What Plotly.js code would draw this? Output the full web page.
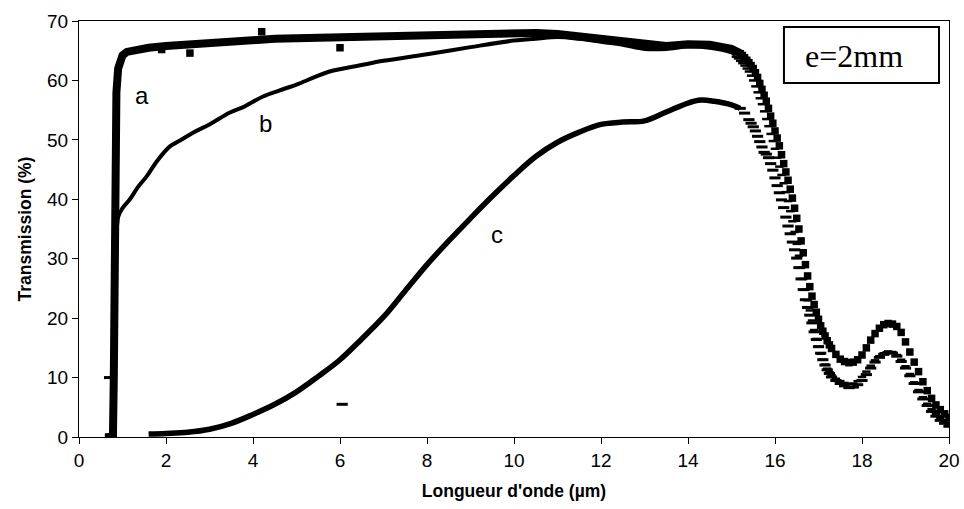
<!DOCTYPE html>
<html>
<head>
<meta charset="utf-8">
<script src="https://cdn.plot.ly/plotly-3.0.1.min.js"></script>
<style>html,body{margin:0;padding:0;background:#fff;}#chart{width:964px;height:509px;}</style>
</head>
<body>
<div id="chart"></div>
<script>
// ---- Curve a (thick line, square markers in the cut-off region) ----
const aWaveTop  = [0.65, 0.78, 0.80, 0.82, 0.84, 0.86, 0.90, 0.95, 1.00, 1.10, 1.30, 1.60, 2.00, 2.50, 3.00, 3.50, 4.00, 4.50, 5.00, 6.00, 7.00, 8.00, 9.00, 10.00, 10.50, 11.00, 11.50, 12.00, 12.50, 13.00, 13.50, 14.00, 14.50, 15.00, 15.20];
const aTransTop = [0.0, 0.0, 10.0, 30.0, 48.0, 58.0, 62.0, 63.5, 64.2, 64.8, 65.2, 65.5, 65.8, 66.1, 66.4, 66.6, 66.8, 67.0, 67.1, 67.3, 67.4, 67.6, 67.8, 68.0, 68.0, 67.8, 67.4, 67.0, 66.5, 65.9, 65.8, 66.1, 66.0, 65.3, 64.6];
const aWaveDrop  = [15.20, 15.25, 15.30, 15.35, 15.40, 15.45, 15.50, 15.55, 15.60, 15.65, 15.70, 15.75, 15.80, 15.85, 15.90, 15.95, 16.00, 16.05, 16.10, 16.15, 16.20, 16.25, 16.30, 16.35, 16.40, 16.45, 16.50, 16.55, 16.60, 16.65, 16.70, 16.75, 16.80, 16.85, 16.90, 16.95, 17.00, 17.05, 17.10, 17.15, 17.20, 17.25, 17.30, 17.40, 17.50, 17.60, 17.70, 17.80, 17.90, 18.00, 18.10, 18.20, 18.30, 18.40, 18.50, 18.60, 18.70, 18.80, 18.90, 19.00, 19.10, 19.20, 19.30, 19.40, 19.50, 19.60, 19.70, 19.80, 19.90, 20.00];
const aTransDrop = [64.5, 64.2, 63.8, 63.4, 63.0, 62.5, 62.0, 61.3, 60.5, 59.5, 58.5, 57.5, 56.5, 55.3, 54.0, 52.8, 51.5, 50.3, 49.0, 47.5, 46.0, 44.6, 43.2, 41.7, 40.2, 38.5, 36.8, 35.0, 33.0, 31.0, 29.0, 27.1, 25.3, 23.7, 22.3, 21.0, 19.8, 18.7, 17.8, 17.0, 16.2, 15.5, 14.9, 13.9, 13.1, 12.7, 12.5, 12.6, 13.0, 13.8, 15.0, 16.3, 17.4, 18.3, 18.9, 19.1, 19.0, 18.6, 17.6, 16.0, 14.3, 12.6, 11.0, 9.3, 7.8, 6.5, 5.4, 4.6, 3.9, 3.3];
const aStrayWave  = [0.68, 0.75, 1.90, 2.55, 4.20, 6.00];
const aStrayTrans = [0.0, 0.0, 65.2, 64.6, 68.2, 65.5];

// ---- Curve b (thinner line, dash markers in the cut-off region) ----
const bWaveTop  = [0.80, 0.83, 0.86, 0.90, 1.00, 1.17, 1.35, 1.56, 1.80, 2.09, 2.30, 2.62, 3.00, 3.47, 3.80, 4.23, 4.60, 5.00, 5.40, 5.76, 6.50, 7.00, 8.00, 9.00, 10.00, 10.50, 11.00, 11.50, 12.00, 12.50, 13.00, 13.50, 14.00, 14.50, 15.00, 15.10];
const bTransTop = [0.0, 20.0, 32.0, 37.0, 38.5, 40.0, 42.0, 43.9, 46.5, 48.9, 49.8, 51.2, 52.6, 54.6, 55.6, 57.3, 58.3, 59.3, 60.5, 61.5, 62.6, 63.3, 64.4, 65.6, 66.7, 67.0, 67.3, 67.0, 66.5, 66.0, 65.3, 65.3, 65.7, 65.5, 64.7, 64.3];
const bWaveDrop  = [15.10, 15.15, 15.20, 15.25, 15.30, 15.35, 15.40, 15.45, 15.50, 15.55, 15.60, 15.65, 15.70, 15.75, 15.80, 15.85, 15.90, 15.95, 16.00, 16.05, 16.10, 16.15, 16.20, 16.25, 16.30, 16.35, 16.40, 16.45, 16.50, 16.55, 16.60, 16.65, 16.70, 16.75, 16.80, 16.85, 16.90, 16.95, 17.00, 17.05, 17.10, 17.15, 17.20, 17.25, 17.30, 17.40, 17.50, 17.60, 17.70, 17.80, 17.90, 18.00, 18.10, 18.20, 18.30, 18.40, 18.50, 18.60, 18.70, 18.80, 18.90, 19.00, 19.10, 19.20, 19.30, 19.40, 19.50, 19.60, 19.70, 19.80, 19.90, 20.00];
const bTransDrop = [64.0, 63.7, 63.3, 62.9, 62.5, 62.0, 61.5, 60.8, 60.0, 59.0, 58.0, 57.0, 56.0, 54.8, 53.5, 52.3, 51.0, 49.8, 48.5, 47.0, 45.5, 44.1, 42.7, 41.2, 39.7, 38.0, 36.3, 34.5, 32.5, 30.5, 28.5, 26.6, 24.8, 23.0, 21.3, 19.6, 18.0, 16.5, 15.2, 14.0, 13.0, 12.2, 11.5, 10.9, 10.4, 9.8, 9.4, 9.1, 8.9, 9.0, 9.4, 10.1, 11.0, 12.0, 12.9, 13.6, 14.1, 14.4, 14.3, 13.8, 13.0, 11.9, 10.6, 9.2, 7.9, 6.7, 5.6, 4.7, 3.9, 3.2, 2.7, 2.2];
const bStrayWave  = [0.67];
const bStrayTrans = [10.0];

// ---- Curve c (line, dash markers in the cut-off region) ----
const cWaveTop  = [1.60, 2.00, 2.50, 3.00, 3.50, 4.00, 4.50, 5.00, 5.50, 6.00, 6.50, 7.00, 7.50, 8.00, 8.50, 9.00, 9.50, 10.00, 10.50, 11.00, 11.50, 12.00, 12.50, 13.00, 13.50, 14.00, 14.30, 14.60, 15.00, 15.20];
const cTransTop = [0.5, 0.6, 0.8, 1.3, 2.3, 3.8, 5.5, 7.6, 10.2, 13.0, 16.5, 20.2, 24.6, 29.0, 33.0, 36.8, 40.5, 44.0, 47.2, 49.6, 51.3, 52.6, 53.0, 53.2, 54.7, 56.2, 56.7, 56.5, 55.9, 55.3];
const cWaveDrop  = [15.20, 15.30, 15.40, 15.45, 15.50, 15.55, 15.60, 15.65, 15.70, 15.75, 15.80, 15.85, 15.90, 15.95, 16.00, 16.05, 16.10, 16.15, 16.20, 16.25, 16.30, 16.35, 16.40, 16.45, 16.50, 16.55, 16.60, 16.65, 16.70, 16.75, 16.80, 16.85, 16.90, 16.95, 17.00, 17.05, 17.10, 17.15, 17.20, 17.25, 17.30, 17.40, 17.50, 17.60, 17.70, 17.80, 17.90, 18.00, 18.10, 18.20, 18.30, 18.40, 18.50, 18.60, 18.70, 18.80, 18.90, 19.00, 19.10, 19.20, 19.30, 19.40, 19.50, 19.60, 19.70, 19.80, 19.90, 20.00];
const cTransDrop = [55.3, 54.5, 53.4, 52.8, 52.2, 51.5, 50.6, 49.7, 48.8, 47.9, 47.6, 47.0, 46.0, 44.9, 43.6, 42.3, 41.1, 39.9, 38.6, 37.0, 35.5, 34.2, 32.8, 31.5, 30.1, 28.5, 26.6, 24.8, 23.1, 21.8, 20.5, 19.2, 17.7, 16.4, 15.2, 14.1, 13.0, 12.1, 11.3, 10.7, 10.1, 9.5, 9.0, 8.6, 8.3, 8.4, 8.8, 9.5, 10.5, 11.6, 12.6, 13.4, 13.9, 14.2, 14.1, 13.6, 12.7, 11.6, 10.3, 9.0, 7.6, 6.4, 5.3, 4.3, 3.5, 2.8, 2.3, 1.8];
const cStrayWave  = [6.05];
const cStrayTrans = [5.5];

// ---- Labels ----
const curveLabels = ['a', 'b', 'c'];
const labelWave   = [1.45, 4.28, 9.61];
const labelTrans  = [57.4, 52.7, 34.0];
const boxText = 'e=2mm';
const xTitle = "Longueur d'onde (µm)";
const yTitle = 'Transmission (%)';

const K = '#000000';
const sans = 'Liberation Sans, Arial, sans-serif';
const serif = 'Liberation Serif, Times New Roman, serif';

const traces = [
  {x: cWaveTop, y: cTransTop, mode: 'lines', line: {color: K, width: 5.5, shape: 'spline'}},
  {x: cWaveDrop, y: cTransDrop, mode: 'markers', marker: {symbol: 'line-ew', size: 8, line: {color: K, width: 3}}},
  {x: cStrayWave, y: cStrayTrans, mode: 'markers', marker: {symbol: 'line-ew', size: 8, line: {color: K, width: 3}}},
  {x: bWaveTop, y: bTransTop, mode: 'lines', line: {color: K, width: 4, shape: 'spline'}},
  {x: bWaveDrop, y: bTransDrop, mode: 'markers', marker: {symbol: 'line-ew', size: 6, line: {color: K, width: 2.5}}},
  {x: bStrayWave, y: bStrayTrans, mode: 'markers', marker: {symbol: 'line-ew', size: 6, line: {color: K, width: 3}}},
  {x: aWaveTop, y: aTransTop, mode: 'lines', line: {color: K, width: 8}},
  {x: aWaveDrop, y: aTransDrop, mode: 'markers', marker: {symbol: 'square', size: 7.5, color: K}},
  {x: aStrayWave, y: aStrayTrans, mode: 'markers', marker: {symbol: 'square', size: 7.5, color: K}}
];

const annotations = curveLabels.map((t, i) => ({
  x: labelWave[i], y: labelTrans[i], xref: 'x', yref: 'y', text: t, showarrow: false,
  font: {family: sans, size: 24, color: K}, xanchor: 'center', yanchor: 'middle'
}));
annotations.push({
  x: 0.891, y: 0.916, xref: 'paper', yref: 'paper', text: boxText, showarrow: false,
  font: {family: serif, size: 32, color: K}, xanchor: 'center', yanchor: 'middle'
});

const layout = {
  width: 964, height: 509,
  margin: {l: 79, r: 15, t: 21, b: 72},
  paper_bgcolor: '#fff', plot_bgcolor: '#fff',
  showlegend: false,
  xaxis: {
    range: [0, 20], tick0: 0, dtick: 2, ticks: 'outside', ticklen: 6, tickcolor: K, tickwidth: 1,
    showline: true, linecolor: K, linewidth: 1, mirror: true, showgrid: false, zeroline: false,
    tickfont: {family: sans, size: 19, color: K},
    title: {text: '<b>' + xTitle + '</b>', font: {family: sans, size: 17.5, color: K}, standoff: 14}
  },
  yaxis: {
    range: [0, 70], tick0: 0, dtick: 10, ticks: 'outside', ticklen: 6, tickcolor: K, tickwidth: 1,
    showline: true, linecolor: K, linewidth: 1, mirror: true, showgrid: false, zeroline: false,
    tickfont: {family: sans, size: 19, color: K},
    title: {text: '<b>' + yTitle + '</b>', font: {family: sans, size: 17.5, color: K}, standoff: 10}
  },
  shapes: [{
    type: 'rect', xref: 'paper', yref: 'paper', x0: 0.8103, x1: 0.9885, y0: 0.8511, y1: 0.9856,
    line: {color: K, width: 2}, fillcolor: '#fff'
  }],
  annotations: annotations
};

Plotly.newPlot('chart', traces, layout, {displayModeBar: false, staticPlot: true});
</script>
</body>
</html>
